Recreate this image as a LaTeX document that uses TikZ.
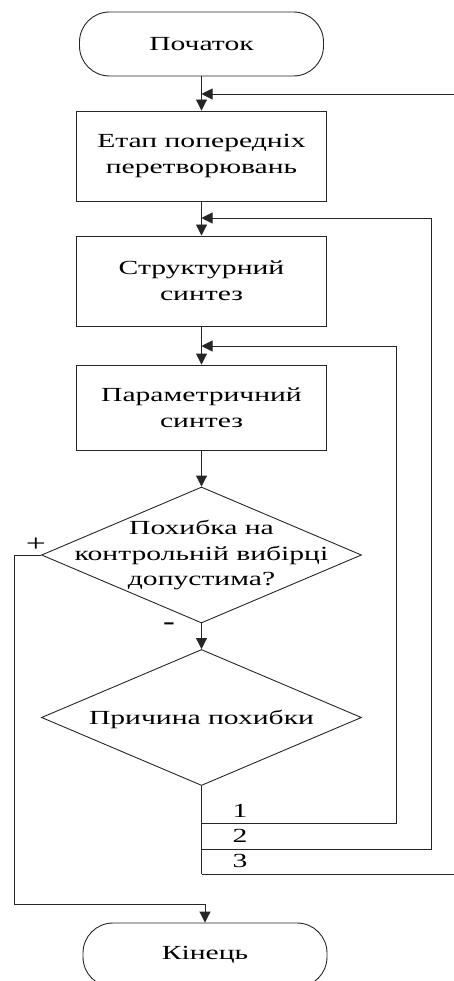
\documentclass[tikz,border=0pt]{standalone}
\usepackage{fontspec}
\setmainfont[FakeStretch=1.48]{Liberation Serif}
\usetikzlibrary{arrows.meta,shapes.geometric}
\begin{document}
\begin{tikzpicture}[x=1pt,y=-1pt,
  line/.style={draw=black!85,line width=0.9pt},
  arr/.style={line,-{Triangle[length=11pt,width=11pt]}},
  txt/.style={font=\fontsize{20}{25.5}\selectfont,align=center,inner sep=0pt},
  proc/.style={line,txt,rectangle,minimum width=250pt},
  term/.style={line,txt,rectangle,rounded corners=30pt,minimum width=244pt,minimum height=64pt},
  dec/.style={line,diamond,minimum width=320pt,minimum height=136pt,inner sep=0pt},
  lbl/.style={font=\fontsize{20}{24}\selectfont,inner sep=0pt}]
\useasboundingbox (0,0) rectangle (454,981);
\clip (0,0) rectangle (454,981);
\def\col{201.5}

% main column
\node[term] (start) at (\col,44) {Початок};
\node[proc,minimum height=90pt] (b1) at (\col,156) {Етап попередніх\\перетворювань};
\node[proc,minimum height=90pt] (b2) at (\col,281) {Структурний\\синтез};
\node[proc,minimum height=85pt] (b3) at (\col,407.5) {Параметричний\\синтез};
\node[dec] (d1) at (\col,555) {};
\node[txt] (d1t) at (\col,555) {Похибка на\\контрольній вибірці\\допустима?};
\node[dec] (d2) at (\col,717.5) {};
\node[txt] (d2t) at (\col,719) {Причина похибки};
\node[term] (stop) at (205,955) {Кінець};

% junction points on the main column
\coordinate (j1) at (\col,94);
\coordinate (j2) at (\col,218);
\coordinate (j3) at (\col,346);
\coordinate (br1) at (\col,823);
\coordinate (br2) at (\col,849);
\coordinate (br3) at (\col,874);
% return routes on the right
\coordinate (r1) at (396,346);
\coordinate (r2) at (431,218);
\coordinate (r3) at (458,94);
% bypass on the left
\coordinate (lp) at (14,904);

\draw[arr] (start) -- (b1);
\draw[arr] (b1) -- (b2);
\draw[arr] (b2) -- (b3);
\draw[arr] (b3) -- (d1);
\draw[arr] (d1) -- (d2);
\draw[line] (d2.south) -- (br3);

\draw[arr] (br1) -| (r1) -- (j3);
\draw[arr] (br2) -| (r2) -- (j2);
\draw[arr] (br3) -| (r3) -- (j1);

\draw[arr] (d1.west) -| (lp) -- (stop.north |- lp) -- (stop.north);

% branch labels
\node[lbl,font=\fontsize{24}{24}\selectfont] (plus) at (36,545) {+};
\node[lbl,font=\fontsize{24}{24}\selectfont\bfseries] (minus) at (169,626) {-};
\node[lbl] (n1) at (240,811) {1};
\node[lbl] (n2) at (240,836) {2};
\node[lbl] (n3) at (240,861) {3};
\end{tikzpicture}
\end{document}
